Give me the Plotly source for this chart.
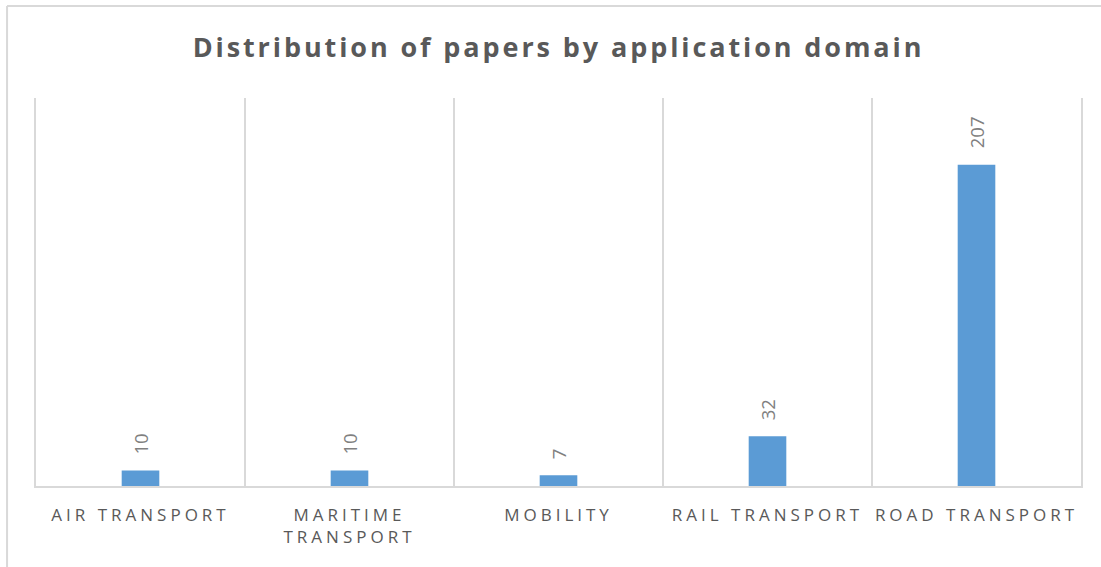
import plotly.graph_objects as go

# Application domains and paper counts
domains = ["AIR TRANSPORT", "MARITIME<br>TRANSPORT", "MOBILITY", "RAIL TRANSPORT", "ROAD TRANSPORT"]
papers = [10, 10, 7, 32, 207]

BAR_COLOR = "#5B9BD5"
GRID_COLOR = "#D9D9D9"
TEXT_COLOR = "#595959"
LABEL_COLOR = "#808080"

fig = go.Figure()
fig.add_trace(go.Bar(
    x=domains,
    y=papers,
    width=0.18,
    marker=dict(color=BAR_COLOR, line=dict(width=0)),
    hoverinfo="x+y",
))

# Rotated value labels above each bar
for d, v in zip(domains, papers):
    fig.add_annotation(
        x=d, y=v, xref="x", yref="y",
        text=str(v), textangle=-90,
        showarrow=False, yanchor="bottom", yshift=14,
        font=dict(family="Open Sans", size=18.5, color=LABEL_COLOR),
    )

# Outer chart frame
fig.add_shape(type="line", xref="paper", yref="paper",
              x0=-0.0277, x1=-0.0277, y0=-0.3, y1=1.2374,
              line=dict(color=GRID_COLOR, width=2), layer="below")
fig.add_shape(type="line", xref="paper", yref="paper",
              x0=-0.0277, x1=1.05, y0=1.2374, y1=1.2374,
              line=dict(color=GRID_COLOR, width=2), layer="below")

fig.update_layout(
    width=1101, height=567,
    margin=dict(l=36, r=20, t=98, b=81),
    paper_bgcolor="white", plot_bgcolor="white",
    showlegend=False,
    title=dict(
        text="<b>Distribution of papers by application domain</b>",
        x=0.5, xref="paper", xanchor="center",
        y=0.917, yref="container", yanchor="middle",
        font=dict(family="Open Sans", size=27, color=TEXT_COLOR),
    ),
    xaxis=dict(
        type="category",
        tickson="boundaries",
        showgrid=True, gridcolor=GRID_COLOR, gridwidth=1.5,
        showline=True, linecolor=GRID_COLOR, linewidth=1.5,
        ticks="", ticklabelstandoff=13,
        tickfont=dict(family="Open Sans", size=17, color=TEXT_COLOR),
    ),
    yaxis=dict(
        range=[0, 250],
        showgrid=False, zeroline=False,
        showline=True, mirror=True, linecolor=GRID_COLOR, linewidth=1.5,
        showticklabels=False, ticks="",
    ),
)

# Wider character spacing for the title and category labels
letter_spacing = """
var s = document.createElement('style');
s.textContent = '.gtitle{letter-spacing:2.9px;} .xtick text{letter-spacing:4px;}';
document.head.appendChild(s);
"""

fig.write_html("out.html", post_script=letter_spacing)
